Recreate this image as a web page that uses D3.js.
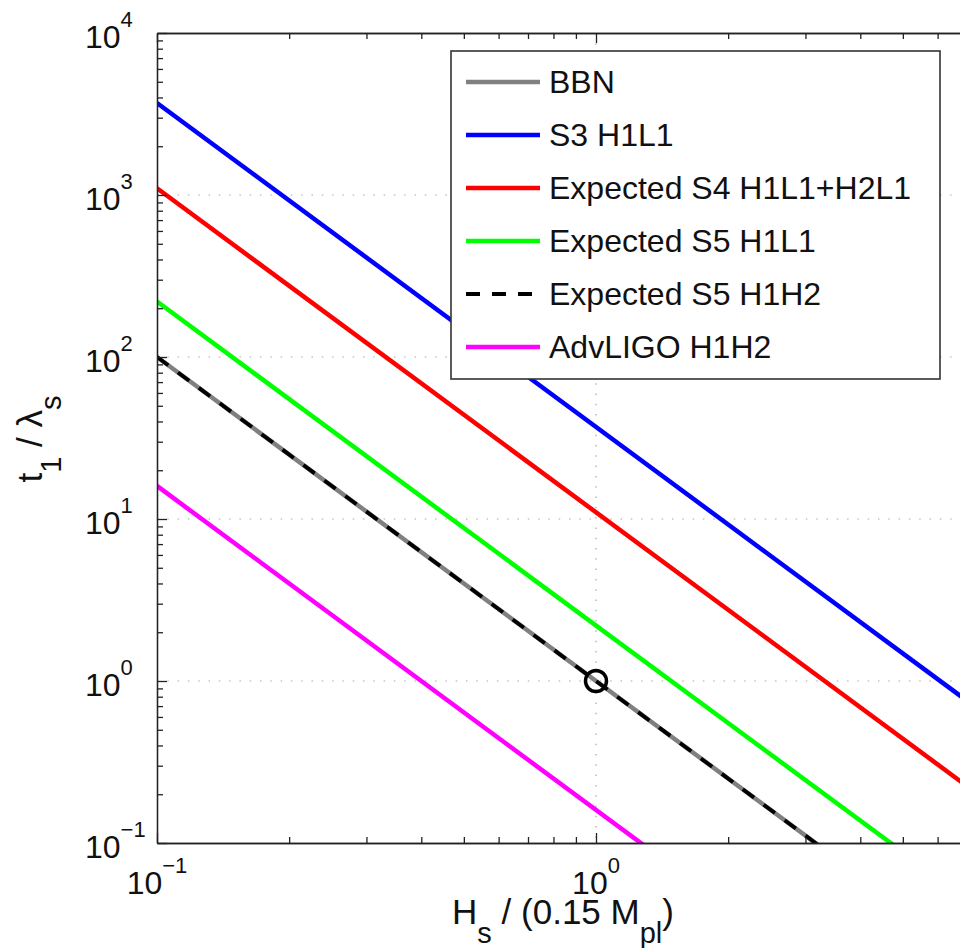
<!DOCTYPE html>
<html>
<head>
<meta charset="utf-8">
<script src="https://cdn.jsdelivr.net/npm/d3@7"></script>
<style>
  html, body { margin: 0; padding: 0; background: #fff; overflow: hidden; }
  svg { display: block; }
  text { font-family: "Liberation Sans", Arial, Helvetica, sans-serif; fill: #111; white-space: pre; }
</style>
</head>
<body>
<svg id="chart" width="960" height="948"></svg>
<script>
// H_s / (0.15 M_pl) at the two ends of every curve
const hsEnds = [0.1, 10];

// t1 / lambda_s at those ends, one array per curve
const bbnValues        = [100, 0.01];
const s3H1L1Values     = [3700, 0.37];
const s4ExpectedValues = [1100, 0.11];
const s5H1L1Values     = [220, 0.022];
const s5H1H2Values     = [100, 0.01];
const advLigoValues    = [16, 0.0016];

const seriesNames = ["BBN", "S3 H1L1", "Expected S4 H1L1+H2L1", "Expected S5 H1L1", "Expected S5 H1H2", "AdvLIGO H1H2"];
const seriesColors = ["#808080", "#0000ff", "#ff0000", "#00ff00", "#000000", "#ff00ff"];
const seriesDashed = [false, false, false, false, true, false];
const seriesValues = [bbnValues, s3H1L1Values, s4ExpectedValues, s5H1L1Values, s5H1H2Values, advLigoValues];

// reference point marked with a circle
const markerPoint = [1, 1];

// axis decades (exponents of ten)
const xTickExponents = [-1, 0];
const yTickExponents = [-1, 0, 1, 2, 3, 4];
const xDomain = [0.1, 10];
const yDomain = [0.1, 1e4];

const svg = d3.select("#chart");

const plotLeft = 157, plotTop = 33, plotBottom = 843, plotRight = 1035;
const x = d3.scaleLog().domain(xDomain).range([plotLeft, plotRight]);
const y = d3.scaleLog().domain(yDomain).range([plotBottom, plotTop]);

// minor/major tick values for each decade
function decadeTicks(domain) {
  const major = [], minor = [];
  const lo = Math.round(Math.log10(domain[0])), hi = Math.round(Math.log10(domain[1]));
  for (let e = lo; e <= hi; e++) {
    major.push(Math.pow(10, e));
    if (e < hi) for (let k = 2; k <= 9; k++) minor.push(k * Math.pow(10, e));
  }
  return { major, minor };
}
const xt = decadeTicks(xDomain), yt = decadeTicks(yDomain);

// dotted grid at the decades
const grid = svg.append("g").attr("stroke", "#a8a8a8").attr("stroke-width", 1.2)
  .attr("stroke-dasharray", "1.5,8.8").attr("fill", "none");
yt.major.filter(v => v > yDomain[0] && v < yDomain[1]).forEach(v => {
  grid.append("line").attr("x1", plotLeft).attr("x2", plotRight).attr("y1", y(v)).attr("y2", y(v));
});
xt.major.filter(v => v > xDomain[0] && v < xDomain[1]).forEach(v => {
  grid.append("line").attr("x1", x(v)).attr("x2", x(v)).attr("y1", plotTop).attr("y2", plotBottom);
});

// plot-area clip
svg.append("defs").append("clipPath").attr("id", "plotClip")
  .append("rect").attr("x", plotLeft).attr("y", plotTop)
  .attr("width", plotRight - plotLeft).attr("height", plotBottom - plotTop);

const line = d3.line().x(d => x(d[0])).y(d => y(d[1]));
const plot = svg.append("g").attr("clip-path", "url(#plotClip)");

seriesValues.forEach((vals, i) => {
  const pts = hsEnds.map((h, j) => [h, vals[j]]);
  plot.append("path")
    .attr("d", line(pts))
    .attr("fill", "none")
    .attr("stroke", seriesColors[i])
    .attr("stroke-width", seriesDashed[i] ? 3.8 : 4.5)
    .attr("stroke-dasharray", seriesDashed[i] ? "14,12" : null);
});

plot.append("circle")
  .attr("cx", x(markerPoint[0])).attr("cy", y(markerPoint[1])).attr("r", 10.5)
  .attr("fill", "none").attr("stroke", "#000").attr("stroke-width", 3.5);

// axes with inward ticks
function drawAxis(axisFn, scale, ticks, transform) {
  const gMinor = svg.append("g").attr("transform", transform)
    .call(axisFn(scale).tickValues(ticks.minor).tickSizeInner(-6).tickSizeOuter(0).tickFormat(""));
  const gMajor = svg.append("g").attr("transform", transform)
    .call(axisFn(scale).tickValues(ticks.major).tickSizeInner(-10).tickSizeOuter(0).tickFormat(""));
  [gMinor, gMajor].forEach(g => {
    g.selectAll("path.domain").attr("stroke", "#222").attr("stroke-width", 1.3);
    g.selectAll(".tick line").attr("stroke", "#222").attr("stroke-width", 1.3);
  });
}
drawAxis(d3.axisBottom, x, xt, `translate(0,${plotBottom})`);
drawAxis(d3.axisTop, x, xt, `translate(0,${plotTop})`);
drawAxis(d3.axisLeft, y, yt, `translate(${plotLeft},0)`);

// power-of-ten tick labels
function powLabel(sel, exp) {
  sel.append("tspan").attr("font-size", 32).text("10");
  sel.append("tspan").attr("font-size", 22).attr("dy", -21).text(exp < 0 ? "\u2212" + (-exp) : String(exp));
}
xTickExponents.forEach(e => {
  const t = svg.append("text").attr("x", x(Math.pow(10, e))).attr("y", plotBottom + 51).attr("text-anchor", "middle");
  powLabel(t, e);
});
yTickExponents.forEach(e => {
  const t = svg.append("text").attr("x", 85).attr("y", y(Math.pow(10, e)) + 15).attr("text-anchor", "start");
  powLabel(t, e);
});

// axis titles with subscripts
function labelParts(sel, parts) {
  let shift = 0;
  parts.forEach(p => {
    const ts = sel.append("tspan").text(p.t);
    const want = p.sub ? 19 : 0;
    if (want !== shift) { ts.attr("dy", want - shift); shift = want; }
    ts.attr("font-size", p.sub ? 29 : 35);
  });
}
const xTitle = svg.append("text").attr("x", 563).attr("y", 924).attr("text-anchor", "middle");
labelParts(xTitle, [{t: "H"}, {t: "s", sub: true}, {t: " / (0.15 M"}, {t: "pl", sub: true}, {t: ")"}]);

const yTitle = svg.append("text").attr("transform", "translate(42,439) rotate(-90)").attr("text-anchor", "middle");
labelParts(yTitle, [{t: "t"}, {t: "1", sub: true}, {t: " / \u03bb"}, {t: "s", sub: true}]);

// legend
const legend = svg.append("g");
legend.append("rect").attr("x", 451).attr("y", 51).attr("width", 489).attr("height", 328)
  .attr("fill", "#fff").attr("stroke", "#333").attr("stroke-width", 1.6);
seriesNames.forEach((name, i) => {
  const ry = 82 + 53 * i;
  legend.append("line").attr("x1", 466).attr("x2", 540).attr("y1", ry).attr("y2", ry)
    .attr("stroke", seriesColors[i]).attr("stroke-width", seriesDashed[i] ? 3.8 : 4.5)
    .attr("stroke-dasharray", seriesDashed[i] ? "14,12" : null);
  legend.append("text").attr("x", 549).attr("y", ry + 11).attr("font-size", 32).text(name);
});
</script>
</body>
</html>
